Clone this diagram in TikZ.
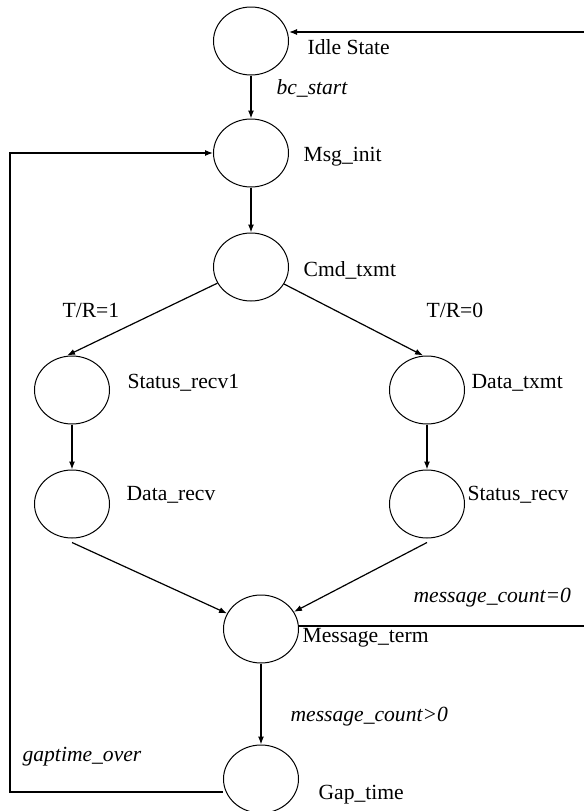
\documentclass[tikz,border=0pt]{standalone}
\usepackage{fontspec}
\setmainfont{Liberation Serif}
\usetikzlibrary{shapes.geometric,arrows.meta}

\tikzset{
  st/.style={draw, ellipse, line width=0.5pt, minimum width=37.5pt, minimum height=34pt, inner sep=0pt},
  lbl/.style={anchor=west, inner sep=0pt, font=\fontsize{10.8}{13}\selectfont},
  cond/.style={lbl, font=\fontsize{10.8}{13}\selectfont\itshape},
  >={Latex[length=4pt,width=3pt]}
}

\begin{document}
\begin{tikzpicture}[x=0.5pt, y=-0.5pt, line width=0.6pt]
    \useasboundingbox (0, 0) rectangle (584, 811);

    % states
    \node (idle)   at (251, 41)  [st] {};
    \node (msg)    at (251, 153) [st] {};
    \node (cmd)    at (251, 267) [st] {};
    \node (srecv1) at (72, 390)  [st] {};
    \node (dtxmt)  at (427, 390) [st] {};
    \node (drecv)  at (72, 504)  [st] {};
    \node (srecv)  at (427, 504) [st] {};
    \node (mterm)  at (261, 629) [st] {};
    \node (gap)    at (261, 779) [st] {};

    % loose ends of the return paths
    \coordinate (idleIn)   at (584, 32);
    \coordinate (termOut)  at (584, 626);
    \coordinate (loopLow)  at (10, 792);
    \coordinate (loopHigh) at (10, 153);

    \draw [->] (idleIn) -- (idleIn -| idle.east);
    \draw [->] (idle) -- (msg);
    \draw [->] (msg) -- (cmd);
    \draw [->] (cmd) -- ([xshift=-2.5pt]srecv1.north);
    \draw [->] (cmd) -- ([xshift=-2pt]dtxmt.north);
    \draw [->] (srecv1) -- (drecv);
    \draw [->] (dtxmt) -- (srecv);
    \draw [->] ([yshift=-2pt]drecv.south) -- (mterm);
    \draw [->] ([yshift=-2pt]srecv.south) -- (mterm);
    \draw (mterm.east |- termOut) -- (termOut);
    \draw [->] (mterm) -- (gap);
    \draw [->] (gap.west |- loopLow) -- (loopLow) -- (loopHigh) -- (msg.west);

    % state names and conditions
    \node (idleLbl)   at (307, 47)  [lbl] {Idle State};
    \node (startLbl)  at (276, 88)  [cond] {bc\_start};
    \node (msgLbl)    at (303, 157) [lbl] {Msg\_init};
    \node (cmdLbl)    at (303, 270) [lbl] {Cmd\_txmt};
    \node (tr1Lbl)    at (62, 310)  [lbl] {T/R=1};
    \node (tr0Lbl)    at (426, 310) [lbl] {T/R=0};
    \node (srecv1Lbl) at (127, 383) [lbl] {Status\_recv1};
    \node (dtxmtLbl)  at (471, 383) [lbl] {Data\_txmt};
    \node (drecvLbl)  at (126, 495) [lbl] {Data\_recv};
    \node (srecvLbl)  at (467, 495) [lbl] {Status\_recv};
    \node (zeroLbl)   at (413, 598) [cond] {message\_count=0};
    \node (mtermLbl)  at (302, 638) [lbl] {Message\_term};
    \node (moreLbl)   at (290, 717) [cond] {message\_count>0};
    \node (overLbl)   at (22, 757)  [cond] {gaptime\_over};
    \node (gapLbl)    at (318, 795) [lbl] {Gap\_time};

\end{tikzpicture}
\end{document}
